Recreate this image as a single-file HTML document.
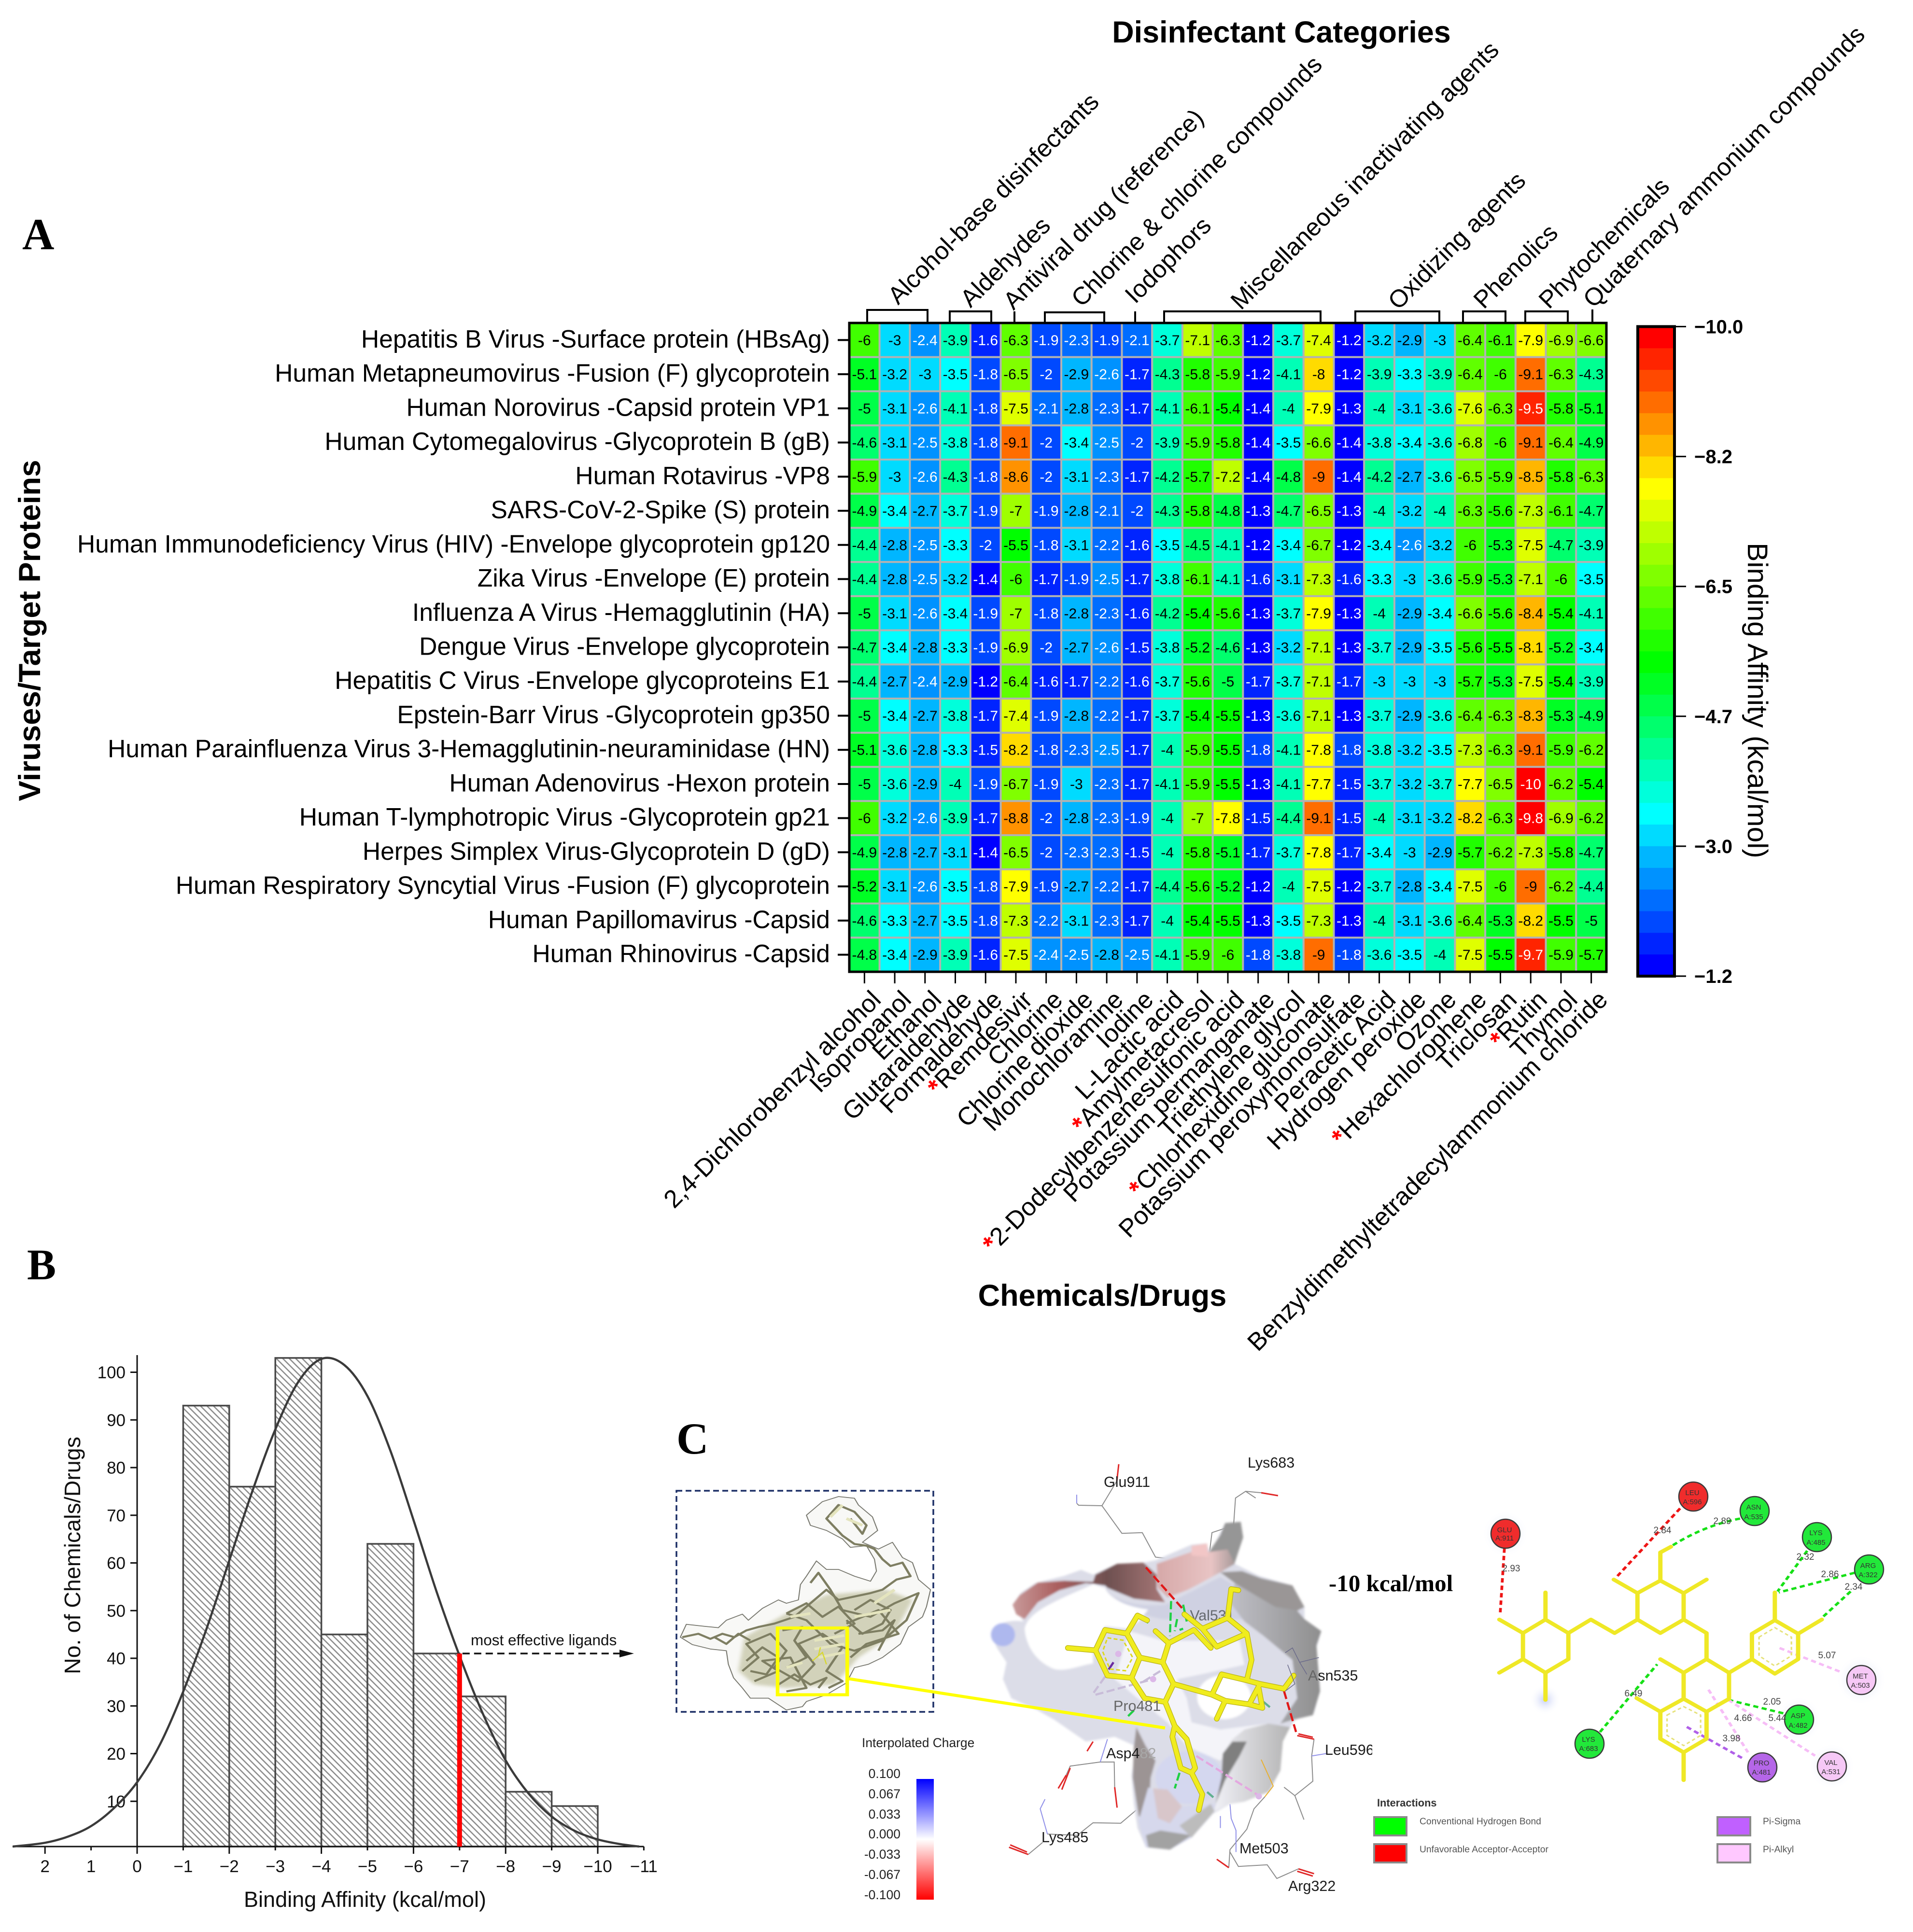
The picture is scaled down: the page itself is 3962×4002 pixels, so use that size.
<!DOCTYPE html>
<html lang="en">
<head>
<meta charset="utf-8">
<title>Binding affinity heatmap, histogram and docking panels</title>
<style>
html,body{margin:0;padding:0;background:#fff;}
svg{display:block;font-family:"Liberation Sans",sans-serif;}
</style>
</head>
<body>
<svg id="fig" xmlns="http://www.w3.org/2000/svg" width="3962" height="4002" viewBox="0 0 3962 4002">
<defs>
<pattern id="hatch" patternUnits="userSpaceOnUse" width="9.5" height="9.5" patternTransform="rotate(-45)">
<rect width="9.5" height="9.5" fill="#fff"/>
<rect x="0" y="0" width="2.6" height="9.5" fill="#8c8c8c"/>
</pattern>
<linearGradient id="chargeGrad" x1="0" y1="0" x2="0" y2="1">
<stop offset="0" stop-color="#0000ff"/><stop offset="0.5" stop-color="#ffffff"/><stop offset="1" stop-color="#ff0000"/>
</linearGradient>
<linearGradient id="rimGrad" x1="0" y1="0" x2="1" y2="0">
<stop offset="0" stop-color="#c89a9a"/><stop offset="0.3" stop-color="#aa5e5e"/><stop offset="0.62" stop-color="#6e5050"/><stop offset="1" stop-color="#a87878"/>
</linearGradient>
<linearGradient id="bandGrad" x1="0" y1="0" x2="1" y2="0">
<stop offset="0" stop-color="#d6a8a8"/><stop offset="0.7" stop-color="#e8c4c4"/><stop offset="1" stop-color="#a89a9a"/>
</linearGradient>
<linearGradient id="rightGrad" x1="0" y1="0" x2="1" y2="0">
<stop offset="0" stop-color="#bfbfc6"/><stop offset="1" stop-color="#8e8e8e"/>
</linearGradient>
<linearGradient id="lowerGrad" x1="0" y1="0" x2="1" y2="0">
<stop offset="0" stop-color="#f0f0f6"/><stop offset="1" stop-color="#b4b4b4"/>
</linearGradient>
<radialGradient id="halo"><stop offset="0" stop-color="#c6cff5"/><stop offset="1" stop-color="#ffffff" stop-opacity="0"/></radialGradient>
<clipPath id="leuClip"><rect x="2700" y="3590" width="142" height="60"/></clipPath>
<filter id="soft" x="-10%" y="-10%" width="120%" height="120%"><feGaussianBlur stdDeviation="5"/></filter>
</defs>

<rect x="0" y="0" width="3962" height="4002" fill="#ffffff"/>

<!-- Panel letters -->
<text x="46" y="516" font-family="Liberation Serif, serif" font-weight="bold" font-size="92">A</text>
<text x="56" y="2650" font-family="Liberation Serif, serif" font-weight="bold" font-size="90">B</text>
<text x="1401" y="3011" font-family="Liberation Serif, serif" font-weight="bold" font-size="92">C</text>

<!-- Heatmap titles -->
<text x="2654" y="88" text-anchor="middle" font-weight="bold" font-size="62.8">Disinfectant Categories</text>
<text x="2283" y="2705" text-anchor="middle" font-weight="bold" font-size="63">Chemicals/Drugs</text>
<text transform="translate(83,1306) rotate(-90)" text-anchor="middle" font-weight="bold" font-size="63.5">Viruses/Target Proteins</text>
<text transform="translate(3620,1451) rotate(90)" text-anchor="middle" font-size="58.6">Binding Affinity (kcal/mol)</text>

<g id="heatmap"></g>

<!-- Category brackets and labels -->
<g fill="none" stroke="#000" stroke-width="4">
<path d="M1796 669V642H1921V669"/>
<path d="M1967 669V645H2053V669"/>
<path d="M2101 669V645"/>
<path d="M2164 669V647H2287V669"/>
<path d="M2351 669V645"/>
<path d="M2411 669V645H2735V669"/>
<path d="M2807 669V645H2981V669"/>
<path d="M3030 669V645H3118V669"/>
<path d="M3159 669V645H3247V669"/>
<path d="M3298 669V641"/>
</g>
<g font-size="51" fill="#000">
<text transform="translate(1860,633) rotate(-45)">Alcohol-base disinfectants</text>
<text transform="translate(2010,639) rotate(-45)">Aldehydes</text>
<text transform="translate(2099,644) rotate(-45)">Antiviral drug (reference)</text>
<text transform="translate(2240,638) rotate(-45)">Chlorine &amp; chlorine compounds</text>
<text transform="translate(2351,631) rotate(-45)">Iodophors</text>
<text transform="translate(2570,644) rotate(-45)">Miscellaneous inactivating agents</text>
<text transform="translate(2896,644) rotate(-45)">Oxidizing agents</text>
<text transform="translate(3073,642) rotate(-45)">Phenolics</text>
<text transform="translate(3208,642) rotate(-45)">Phytochemicals</text>
<text transform="translate(3300,640) rotate(-45)">Quaternary ammonium compounds</text>
</g>

<g id="colorbar"></g>
<g id="hist"></g>

<!-- Panel C: protein overview -->
<rect x="1401" y="3088" width="532" height="458" fill="none" stroke="#1c2f66" stroke-width="3.5" stroke-dasharray="12 7"/>
<g transform="translate(1380,2900) scale(.829,.7018)">
<path d="M35 700 L50 662 L95 668 L130 672 L150 650 L190 632 L205 650 L240 615 L280 590 L300 600 L330 590 L335 545 L350 520 L375 475 L400 500 L430 500 L470 520 L510 535 L525 505 L520 470 L500 430 L460 435 L440 410 L400 385 L360 370 L350 340 L390 300 L430 285 L470 290 L480 310 L515 345 L528 385 L490 420 L530 440 L565 420 L590 465 L615 480 L630 530 L660 560 L650 610 L640 640 L605 670 L585 720 L540 760 L505 780 L470 790 L450 835 L400 870 L350 890 L340 905 L300 915 L255 880 L210 880 L190 850 L168 820 L155 780 L150 740 L110 735 L65 722 Z" fill="#f8f8f6" stroke="#77776e" stroke-width="2.5" stroke-linejoin="round"/>
<path d="M180 800 L195 700 L300 630 L400 575 L550 560 L615 590 L570 690 L480 760 L420 840 L300 850 L220 840 Z" fill="#d2d2ba" filter="url(#soft)"/>
<g fill="none" stroke="#7e7e62" stroke-width="6" stroke-linejoin="round">
<path d="M40 700 L80 690 L110 705 L140 690 L170 700 L200 680 L230 670 L270 660 L320 640 L360 600 L400 560 L430 590 L470 580 L510 570 L540 560 L575 530 L610 520 L590 480 L560 490 L540 470 L520 440 L500 430 L470 425 L440 400 L400 350 L430 310 L470 330 L500 370 L490 395 L460 350"/>
<path d="M190 800 L230 760 L200 720 L260 690 L300 740 L270 790 L330 830 L370 780 L330 720 L390 690 L440 730 L400 800 L440 830 L405 850"/>
<path d="M360 540 L380 510 L410 560 L440 620 L510 640 L570 600 L630 570 L600 650 L540 710 L470 740 L410 720 L350 650 L300 630"/>
<path d="M220 830 L280 800 L240 770 L310 760 L350 850 L300 860 M450 660 L530 620 L580 690 L500 720 L460 760"/>
<path d="M200 770 L240 730 L280 760 L250 810 L210 800 M290 680 L340 670 L320 710 L350 760 L300 790 M470 620 L510 590 L560 620 L540 660 L490 690 L450 650 M480 690 L540 680 L570 650 L530 740"/>
<path d="M300 630 L350 600 L390 640 L430 610 L470 660 L420 690 M120 700 L150 720 L180 690 L210 710 M280 840 L320 810 L360 840 L400 820 L380 850"/>
</g>
<g fill="none" stroke="#e4e4be" stroke-width="8">
<path d="M370 710 L445 695 M370 735 L445 720 M380 760 L445 745 M520 600 L570 560 M470 640 L560 620 M410 345 L440 310 M450 350 L490 370 M310 640 L360 630 M300 790 L340 775"/>
</g>
<path d="M365 770 L390 745 L400 780 M380 755 L385 730" fill="none" stroke="#d8d830" stroke-width="3"/>
</g>

<!-- Panel C: binding pocket (coordinates in a 1568-unit frame over the pocket region) -->
<g transform="translate(2030,3120) scale(.4975)">
<g fill="none" stroke="#8c8c8c" stroke-width="4">
<path d="M402 -12 L410 -4 L507 -2 L590 113 L675 110 L730 212 L785 218 M507 -2 L569 -105"/>
<path d="M1147 -34 L1105 -62 L1063 -34 L1055 80 L965 110 L955 190 L860 250 L855 360 M1105 -62 L1170 -56"/>
<path d="M500 1065 L375 1082 L358 1120 M500 1065 L558 1065 L560 1170"/>
<path d="M650 1265 L585 1320 L470 1318 L405 1370 L280 1365 M260 1400 L200 1450"/>
<path d="M1185 1210 L1140 1260 L1110 1345 L1040 1430 L1035 1505 M1040 1440 L1075 1500 L1195 1493 L1235 1550 L1325 1510"/>
<path d="M1390 970 L1380 1040 L1385 1145 L1310 1205 L1265 1170 M1310 1205 L1348 1305"/>
</g>
<path d="M569 -105 L577 -175 M1170 -56 L1240 -44 M780 218 L825 228 M358 1120 L325 1175 M375 1090 L340 1180 M560 1170 L570 1255 M200 1450 L120 1420 M195 1440 L125 1410 M1035 1505 L985 1470 M1325 1510 L1390 1530 M1320 1520 L1385 1540 M1390 970 L1320 955 M1385 962 L1325 948 M470 980 L445 1020" fill="none" stroke="#e02828" stroke-width="6"/>
<path d="M402 -12 L402 -48 M530 970 L500 1065 M280 1365 L250 1260 L270 1220 M1040 1240 L1045 1300 L1065 1350 L1065 1440 M1000 1290 L1000 1340 M1380 1040 L1440 1030" fill="none" stroke="#9090e8" stroke-width="4"/>

<g filter="url(#soft)">
<path d="M45 530 C60 490 120 470 180 480 L135 410 L170 360 L230 320 L350 290 L420 265 L470 285 L570 240 L680 235 L730 225 L880 160 L940 155 L960 190 L1020 70 L1085 65 L1090 130 L1060 240 L1160 290 L1300 330 L1350 420 L1350 470 L1420 520 L1400 590 L1415 760 L1390 860 L1310 890 L1260 970 L1250 1090 L1210 1180 L1100 1230 L1040 1240 L970 1280 L880 1380 L790 1430 L690 1420 L655 1340 L640 1240 L630 1120 L650 1000 L560 960 L440 980 L310 890 L240 850 L130 800 L95 720 L110 650 L70 590 Z" fill="#dcdde8"/>
<ellipse cx="95" cy="535" rx="50" ry="48" fill="#aeb8ee"/>
<path d="M520 340 C560 400 660 420 770 410 L870 360 L1000 295 L1060 330 L1120 470 L1000 470 L760 470 L620 440 Z" fill="#cfd1e2"/>
<path d="M620 520 L760 560 L1080 560 L1100 660 L920 700 L820 720 L860 800 L880 900 L1000 930 L1200 905 L1050 970 L1000 1060 L860 1000 L780 900 L680 820 L560 720 Z" fill="#f4f4f9"/>
<ellipse cx="870" cy="1130" rx="140" ry="110" fill="#d4d7ef"/>
<path d="M1020 70 L1085 65 L1095 130 L1060 235 L1000 275 L950 195 L1000 120 Z" fill="#969696"/>
<path d="M1000 275 L1090 270 L1170 300 L1300 330 L1350 420 L1320 435 L1230 420 L1140 370 L1060 320 Z" fill="#9a9696"/>
<path d="M1060 320 L1230 420 L1320 435 L1350 470 L1420 520 L1400 580 L1415 770 L1385 870 L1300 890 L1250 905 L1320 800 L1300 640 L1180 540 L1100 480 L1040 400 Z" fill="url(#rightGrad)"/>
<path d="M135 410 L165 370 L240 318 L350 310 L470 315 L480 285 L570 240 L680 235 L735 285 L735 345 L770 400 L640 385 L530 340 L520 330 L440 320 L330 350 L240 400 L185 470 L150 450 Z" fill="url(#rimGrad)"/>
<path d="M735 240 L880 190 L960 190 L1030 180 L1060 240 L1000 275 L900 330 L860 350 L780 380 L740 340 Z" fill="url(#bandGrad)"/>
<path d="M880 165 L945 155 L950 210 L880 205 Z" fill="#f2c6c6"/>
<path d="M1010 1030 L1050 970 L1100 930 L1200 905 L1290 920 L1260 980 L1250 1100 L1200 1190 L1100 1230 L1040 1240 L975 1270 L1005 1140 Z" fill="url(#lowerGrad)"/>
<path d="M1010 1030 L1050 980 L1110 980 L1080 1040 L1020 1140 L980 1240 L1005 1130 Z" fill="#7f7f7f"/>
<path d="M650 920 L690 1000 L730 1060 L710 1130 L700 1310 L660 1290 L635 1130 L640 1000 Z" fill="#9c9494"/>
<path d="M660 1310 L700 1170 L840 1250 L980 1240 L960 1290 L880 1380 L790 1430 L690 1420 Z" fill="#d6d8ec"/>
<path d="M690 1370 L750 1350 L880 1370 L790 1430 L700 1420 Z" fill="#a2a2a2"/>
<path d="M830 1330 L960 1240 L975 1270 L880 1380 Z" fill="#bcbcbc"/>
<path d="M720 1175 L780 1180 L840 1250 L790 1320 L740 1300 Z" fill="#d8c6ca"/>
</g>
<g fill="#ffffff" filter="url(#soft)">
<path d="M185 510 C200 440 300 400 470 325 L520 340 C540 390 620 420 700 430 L660 480 L610 510 L520 500 L470 600 L470 655 C420 660 340 700 290 670 C230 640 190 580 185 510 Z"/>
<ellipse cx="1015" cy="795" rx="112" ry="92"/>
</g>
<text x="873" y="475" font-size="61" fill="#666a70">Val531</text>

<g fill="none" stroke-width="9" stroke-dasharray="34 14">
<path stroke="#e01818" d="M690 255 L850 435 M1265 770 L1315 940"/>
<path stroke="#1fd044" d="M795 395 L790 540 M820 470 L810 520 M845 410 L860 480 M830 1110 L810 1175 M640 850 L615 875 M700 485 L690 480 M830 515 L845 510"/>
<path stroke="#60b090" d="M1180 815 L1210 840 M945 1190 L980 1220"/>
<path stroke="#e4a8e0" d="M900 1040 L1160 1205"/>
<path stroke="#c8bcd8" d="M480 785 L720 720 M520 710 L470 780 M680 730 L760 680"/>
</g>
<path d="M555 650 L535 680" stroke="#6a2ca0" stroke-width="9"/>
<circle cx="575" cy="615" r="13" fill="#dcb8e8"/>
<circle cx="720" cy="720" r="13" fill="#dcb8e8"/>
<circle cx="1160" cy="1208" r="13" fill="#dcb8e8"/>

<path d="M520 515 L610 530 L665 630 L630 715 L530 705 L480 600 Z M480 600 L365 590 M610 530 L655 455 L695 475 M665 630 L760 650 L805 740 L770 815 L685 800 L630 715 M760 650 L785 570 L730 520 M785 570 L890 515 L960 590 M850 450 L925 510 L1030 465 L1110 530 L985 585 L925 510 M1030 465 L1045 345 L1075 350 M1110 530 L1130 640 L1110 725 L1005 700 L965 785 L1020 810 L1120 825 L1165 740 L1110 725 M805 740 L965 785 M1020 810 L985 885 M1120 825 L1175 840 L1160 760 M1165 740 L1265 760 L1305 705 M770 815 L810 915 M810 915 L860 970 L895 1090 L880 1110 L835 1090 L800 960 Z M880 1110 L925 1200 L910 1265" fill="none" stroke="#b8b014" stroke-width="23" stroke-linecap="round" stroke-linejoin="round"/>
<path d="M520 515 L610 530 L665 630 L630 715 L530 705 L480 600 Z M480 600 L365 590 M610 530 L655 455 L695 475 M665 630 L760 650 L805 740 L770 815 L685 800 L630 715 M760 650 L785 570 L730 520 M785 570 L890 515 L960 590 M850 450 L925 510 L1030 465 L1110 530 L985 585 L925 510 M1030 465 L1045 345 L1075 350 M1110 530 L1130 640 L1110 725 L1005 700 L965 785 L1020 810 L1120 825 L1165 740 L1110 725 M805 740 L965 785 M1020 810 L985 885 M1120 825 L1175 840 L1160 760 M1165 740 L1265 760 L1305 705 M770 815 L810 915 M810 915 L860 970 L895 1090 L880 1110 L835 1090 L800 960 Z M880 1110 L925 1200 L910 1265" fill="none" stroke="#f0ec1e" stroke-width="18" stroke-linecap="round" stroke-linejoin="round"/>
<path d="M530 548 L595 558 L635 630 L605 685 L540 678 L510 605 Z" fill="none" stroke="#dcd820" stroke-width="6" stroke-dasharray="16 10"/>
<path d="M1170 1055 L1220 1165 L1185 1210" fill="none" stroke="#e8b030" stroke-width="4"/>
<path d="M1270 610 L1300 590 L1330 650 L1410 630 M1330 650 L1360 700 M1280 660 L1310 740 L1270 770" fill="none" stroke="#6a6a8a" stroke-width="3"/>
</g>

<!-- Panel C: highlight box and connector -->
<g transform="translate(1380,2900) scale(.829,.7018)">
<rect x="278" y="673" width="174" height="197" fill="none" stroke="#ffff00" stroke-width="9"/>
<line x1="452" y1="822" x2="1246" y2="968" stroke="#ffff00" stroke-width="9"/>
</g>

<g font-size="30.5" fill="#1c1c1c">
<text x="2286" y="3080">Glu911</text>
<text x="2584" y="3040">Lys683</text>
<text x="2306" y="3544" fill="#666">Pro481</text>
<text x="2291" y="3642">Asp4<tspan fill="#a8a8a8">82</tspan></text>
<text x="2157" y="3816">Lys485</text>
<text x="2567" y="3839">Met503</text>
<text x="2668" y="3917">Arg322</text>
<text x="2709" y="3481"><tspan fill="#666">A</tspan>sn535</text>
<text x="2744" y="3635" clip-path="url(#leuClip)">Leu596</text>
</g>
<text x="2752" y="3296" font-family="Liberation Serif, serif" font-weight="bold" font-size="49">-10 kcal/mol</text>

<!-- Charge legend -->
<g fill="#222">
<text x="1785" y="3619" font-size="26.4">Interpolated Charge</text>
<g font-size="26.5" text-anchor="end">
<text x="1865" y="3683">0.100</text>
<text x="1865" y="3725">0.067</text>
<text x="1865" y="3767">0.033</text>
<text x="1865" y="3808">0.000</text>
<text x="1865" y="3850">-0.033</text>
<text x="1865" y="3892">-0.067</text>
<text x="1865" y="3934">-0.100</text>
</g>
<rect x="1898" y="3685" width="36" height="250" fill="url(#chargeGrad)"/>
</g>

<!-- Panel C: 2D interactions -->
<g>
<circle cx="3118" cy="3177" r="48" fill="url(#halo)"/>
<circle cx="3855" cy="3480" r="52" fill="url(#halo)"/>
<circle cx="3726" cy="3562" r="48" fill="url(#halo)"/>
<circle cx="3794" cy="3659" r="48" fill="url(#halo)"/>
<circle cx="3200" cy="3521" r="32" fill="url(#halo)"/>
<g transform="translate(2680,2900) scale(.8176,.7018)">
<g fill="none" stroke-width="7" stroke-dasharray="13 9">
<path stroke="#ee1515" d="M533 438 L522 635 M978 320 L815 525"/>
<path stroke="#16e016" d="M1130 350 Q1040 370 958 430 M1300 445 L1225 565 M1420 510 L1228 568 M1410 565 L1340 640 M775 980 L920 780 M1100 885 L1240 925"/>
<path stroke="#f6bdf6" d="M1230 732 L1390 805 M1050 855 L1150 1040 M1100 885 L1320 1050"/>
<path stroke="#b060e8" d="M995 965 L1140 1060"/>
</g>
<g fill="none" stroke="#efe826" stroke-width="11" stroke-linecap="round" stroke-linejoin="round">
<path d="M580 688 L637 648 L695 688 L695 765 L637 805 L580 765 Z M580 688 L520 648 M637 648 L637 568 M580 765 L520 805 M637 805 L637 885 M695 688 L752 648 L812 688 L870 648 M870 570 L928 533 L987 570 L987 648 L928 688 L870 648 Z M870 570 L810 530 M928 533 L928 450 L955 433 M987 570 L1045 530 M987 648 L1045 688 L1045 765 M1045 765 L1102 805 L1102 882 L1045 920 L987 882 L987 805 Z M987 805 L928 765 M1102 805 L1160 765 M1160 690 L1218 650 L1277 690 L1277 765 L1218 808 L1160 765 Z M1218 650 L1218 568 M1277 690 L1337 648 M928 920 L987 882 L1045 920 L1045 1000 L987 1040 L928 1000 Z M928 920 L868 880 M987 1040 L987 1122"/>
</g>
<path d="M1178 700 L1218 672 L1260 700 L1260 755 L1218 785 L1178 755 Z M945 930 L987 905 L1030 930 L1030 990 L987 1020 L945 990 Z" fill="none" stroke="#e6e27a" stroke-width="4" stroke-dasharray="9 7"/>
</g>
<g stroke="#3a3a3a" stroke-width="2.5">
<circle cx="3118" cy="3177" r="30" fill="#f02c2c"/>
<circle cx="3507" cy="3100" r="30" fill="#f02c2c"/>
<circle cx="3634" cy="3130" r="30" fill="#22e83a"/>
<circle cx="3763" cy="3184" r="30" fill="#22e83a"/>
<circle cx="3871" cy="3251" r="30" fill="#22e83a"/>
<circle cx="3855" cy="3480" r="30" fill="#f6c8f6"/>
<circle cx="3726" cy="3562" r="30" fill="#22e83a"/>
<circle cx="3794" cy="3659" r="30" fill="#f6c8f6"/>
<circle cx="3650" cy="3661" r="30" fill="#b566e8"/>
<circle cx="3292" cy="3612" r="30" fill="#22e83a"/>
</g>
<g font-size="15" text-anchor="middle" fill="#333">
<text x="3116" y="3174">GLU</text><text x="3116" y="3191">A:911</text>
<text x="3505" y="3097">LEU</text><text x="3505" y="3116">A:596</text>
<text x="3632" y="3127">ASN</text><text x="3632" y="3147">A:535</text>
<text x="3761" y="3180">LYS</text><text x="3761" y="3200">A:485</text>
<text x="3869" y="3248">ARG</text><text x="3869" y="3267">A:322</text>
<text x="3853" y="3477">MET</text><text x="3853" y="3496">A:503</text>
<text x="3724" y="3559">ASP</text><text x="3724" y="3579">A:482</text>
<text x="3792" y="3656">VAL</text><text x="3792" y="3675">A:531</text>
<text x="3648" y="3657">PRO</text><text x="3648" y="3676">A:481</text>
<text x="3290" y="3608">LYS</text><text x="3290" y="3627">A:683</text>
</g>
<g font-size="19" text-anchor="middle" fill="#444">
<text x="3130" y="3255">2.93</text>
<text x="3443" y="3176">2.84</text>
<text x="3567" y="3157">2.89</text>
<text x="3739" y="3231">2.32</text>
<text x="3790" y="3267">2.86</text>
<text x="3839" y="3293">2.34</text>
<text x="3784" y="3435">5.07</text>
<text x="3383" y="3514">6.49</text>
<text x="3670" y="3531">2.05</text>
<text x="3610" y="3565">4.66</text>
<text x="3681" y="3565">5.44</text>
<text x="3586" y="3607">3.98</text>
</g>
<text x="2852" y="3742" font-size="21.8" font-weight="bold" fill="#333">Interactions</text>
<g stroke="#8a8a8a" stroke-width="4">
<rect x="2846" y="3764" width="67" height="38" fill="#00ff00"/>
<rect x="2846" y="3820" width="67" height="38" fill="#ff0000"/>
<rect x="3557" y="3764" width="68" height="38" fill="#c060ff"/>
<rect x="3557" y="3820" width="68" height="38" fill="#ffc8ff"/>
</g>
<g font-size="19.3" fill="#555">
<text x="2940" y="3779">Conventional Hydrogen Bond</text>
<text x="2940" y="3837">Unfavorable Acceptor-Acceptor</text>
<text x="3651" y="3779">Pi-Sigma</text>
<text x="3651" y="3837">Pi-Alkyl</text>
</g>
</g>
</svg>

<script>
// ---------- Heatmap data ----------
const proteins = [
"Hepatitis B Virus -Surface protein (HBsAg)",
"Human Metapneumovirus -Fusion (F) glycoprotein",
"Human Norovirus -Capsid protein VP1",
"Human Cytomegalovirus -Glycoprotein B (gB)",
"Human Rotavirus -VP8",
"SARS-CoV-2-Spike (S) protein",
"Human Immunodeficiency Virus (HIV) -Envelope glycoprotein gp120",
"Zika Virus -Envelope (E) protein",
"Influenza A Virus -Hemagglutinin (HA)",
"Dengue Virus -Envelope glycoprotein",
"Hepatitis C Virus -Envelope glycoproteins E1",
"Epstein-Barr Virus -Glycoprotein gp350",
"Human Parainfluenza Virus 3-Hemagglutinin-neuraminidase (HN)",
"Human Adenovirus -Hexon protein",
"Human T-lymphotropic Virus -Glycoprotein gp21",
"Herpes Simplex Virus-Glycoprotein D (gD)",
"Human Respiratory Syncytial Virus -Fusion (F) glycoprotein",
"Human Papillomavirus -Capsid",
"Human Rhinovirus -Capsid"];
const drugs = [
"2,4-Dichlorobenzyl alcohol","Isopropanol","Ethanol","Glutaraldehyde","Formaldehyde","*Remdesivir",
"Chlorine","Chlorine dioxide","Monochloramine","Iodine","L-Lactic acid","*Amylmetacresol",
"*2-Dodecylbenzenesulfonic acid","Potassium permanganate","Triethylene glycol","*Chlorhexidine gluconate",
"Potassium peroxymonosulfate","Peracetic Acid","Hydrogen peroxide","Ozone","*Hexachlorophene","Triclosan",
"*Rutin","Thymol","Benzyldimethyltetradecylammonium chloride"];
const affinity = [
[-6,-3,-2.4,-3.9,-1.6,-6.3,-1.9,-2.3,-1.9,-2.1,-3.7,-7.1,-6.3,-1.2,-3.7,-7.4,-1.2,-3.2,-2.9,-3,-6.4,-6.1,-7.9,-6.9,-6.6],
[-5.1,-3.2,-3,-3.5,-1.8,-6.5,-2,-2.9,-2.6,-1.7,-4.3,-5.8,-5.9,-1.2,-4.1,-8,-1.2,-3.9,-3.3,-3.9,-6.4,-6,-9.1,-6.3,-4.3],
[-5,-3.1,-2.6,-4.1,-1.8,-7.5,-2.1,-2.8,-2.3,-1.7,-4.1,-6.1,-5.4,-1.4,-4,-7.9,-1.3,-4,-3.1,-3.6,-7.6,-6.3,-9.5,-5.8,-5.1],
[-4.6,-3.1,-2.5,-3.8,-1.8,-9.1,-2,-3.4,-2.5,-2,-3.9,-5.9,-5.8,-1.4,-3.5,-6.6,-1.4,-3.8,-3.4,-3.6,-6.8,-6,-9.1,-6.4,-4.9],
[-5.9,-3,-2.6,-4.3,-1.8,-8.6,-2,-3.1,-2.3,-1.7,-4.2,-5.7,-7.2,-1.4,-4.8,-9,-1.4,-4.2,-2.7,-3.6,-6.5,-5.9,-8.5,-5.8,-6.3],
[-4.9,-3.4,-2.7,-3.7,-1.9,-7,-1.9,-2.8,-2.1,-2,-4.3,-5.8,-4.8,-1.3,-4.7,-6.5,-1.3,-4,-3.2,-4,-6.3,-5.6,-7.3,-6.1,-4.7],
[-4.4,-2.8,-2.5,-3.3,-2,-5.5,-1.8,-3.1,-2.2,-1.6,-3.5,-4.5,-4.1,-1.2,-3.4,-6.7,-1.2,-3.4,-2.6,-3.2,-6,-5.3,-7.5,-4.7,-3.9],
[-4.4,-2.8,-2.5,-3.2,-1.4,-6,-1.7,-1.9,-2.5,-1.7,-3.8,-6.1,-4.1,-1.6,-3.1,-7.3,-1.6,-3.3,-3,-3.6,-5.9,-5.3,-7.1,-6,-3.5],
[-5,-3.1,-2.6,-3.4,-1.9,-7,-1.8,-2.8,-2.3,-1.6,-4.2,-5.4,-5.6,-1.3,-3.7,-7.9,-1.3,-4,-2.9,-3.4,-6.6,-5.6,-8.4,-5.4,-4.1],
[-4.7,-3.4,-2.8,-3.3,-1.9,-6.9,-2,-2.7,-2.6,-1.5,-3.8,-5.2,-4.6,-1.3,-3.2,-7.1,-1.3,-3.7,-2.9,-3.5,-5.6,-5.5,-8.1,-5.2,-3.4],
[-4.4,-2.7,-2.4,-2.9,-1.2,-6.4,-1.6,-1.7,-2.2,-1.6,-3.7,-5.6,-5,-1.7,-3.7,-7.1,-1.7,-3,-3,-3,-5.7,-5.3,-7.5,-5.4,-3.9],
[-5,-3.4,-2.7,-3.8,-1.7,-7.4,-1.9,-2.8,-2.2,-1.7,-3.7,-5.4,-5.5,-1.3,-3.6,-7.1,-1.3,-3.7,-2.9,-3.6,-6.4,-6.3,-8.3,-5.3,-4.9],
[-5.1,-3.6,-2.8,-3.3,-1.5,-8.2,-1.8,-2.3,-2.5,-1.7,-4,-5.9,-5.5,-1.8,-4.1,-7.8,-1.8,-3.8,-3.2,-3.5,-7.3,-6.3,-9.1,-5.9,-6.2],
[-5,-3.6,-2.9,-4,-1.9,-6.7,-1.9,-3,-2.3,-1.7,-4.1,-5.9,-5.5,-1.3,-4.1,-7.7,-1.5,-3.7,-3.2,-3.7,-7.7,-6.5,-10,-6.2,-5.4],
[-6,-3.2,-2.6,-3.9,-1.7,-8.8,-2,-2.8,-2.3,-1.9,-4,-7,-7.8,-1.5,-4.4,-9.1,-1.5,-4,-3.1,-3.2,-8.2,-6.3,-9.8,-6.9,-6.2],
[-4.9,-2.8,-2.7,-3.1,-1.4,-6.5,-2,-2.3,-2.3,-1.5,-4,-5.8,-5.1,-1.7,-3.7,-7.8,-1.7,-3.4,-3,-2.9,-5.7,-6.2,-7.3,-5.8,-4.7],
[-5.2,-3.1,-2.6,-3.5,-1.8,-7.9,-1.9,-2.7,-2.2,-1.7,-4.4,-5.6,-5.2,-1.2,-4,-7.5,-1.2,-3.7,-2.8,-3.4,-7.5,-6,-9,-6.2,-4.4],
[-4.6,-3.3,-2.7,-3.5,-1.8,-7.3,-2.2,-3.1,-2.3,-1.7,-4,-5.4,-5.5,-1.3,-3.5,-7.3,-1.3,-4,-3.1,-3.6,-6.4,-5.3,-8.2,-5.5,-5],
[-4.8,-3.4,-2.9,-3.9,-1.6,-7.5,-2.4,-2.5,-2.8,-2.5,-4.1,-5.9,-6,-1.8,-3.8,-9,-1.8,-3.6,-3.5,-4,-7.5,-5.5,-9.7,-5.9,-5.7]];
const colorbarTicks = ["\u221210.0","\u22128.2","\u22126.5","\u22124.7","\u22123.0","\u22121.2"];

// ---------- Histogram data ----------
const binLower = [-1,-2,-3,-4,-5,-6,-7,-8,-9];
const binCounts = [93,76,103,45,64,41,32,12,9];
const xTickValues = [2,1,0,-1,-2,-3,-4,-5,-6,-7,-8,-9,-10,-11];
const yTickValues = [10,20,30,40,50,60,70,80,90,100];
const curveAffinity = [2.7,2,1.5,1,0.5,0,-0.5,-1,-1.5,-2,-2.5,-3,-3.5,-4,-4.5,-5,-5.5,-6,-6.5,-7,-7.5,-8,-8.5,-9,-9.5,-10,-10.5,-10.9];
const curveCount = [0.5,1.3,2.6,4.8,8.6,14,22,33,46,60.5,75,88,98,102.8,101.5,95,83.5,69,54,40.5,28.5,18.6,11.6,6.8,3.8,2,1,0.5];
const thresholdAffinity = -7;
const thresholdCount = 41;

const NS = 'http://www.w3.org/2000/svg';
function mk(tag, parent, props) {
  const n = document.createElementNS(NS, tag);
  for (const k in props) n.setAttribute(k, props[k]);
  parent.appendChild(n);
  return n;
}

// ---------- Heatmap scales ----------
const gridX0 = 1759, gridX1 = 3327, gridY0 = 669, gridY1 = 2013;
const colW = (gridX1 - gridX0) / drugs.length;
const rowH = (gridY1 - gridY0) / proteins.length;
function colX(c) { return gridX0 + c * colW; }
function rowY(r) { return gridY0 + r * rowH; }

const LEVELS = 30, VMIN = -10, VMAX = -1.2;
function bandColor(idx) {
  // idx 0 = top band (red), 29 = bottom band (blue)
  let r, g, b;
  if (idx <= 7) { r = 255; g = Math.round(255 * idx / 7); b = 0; }
  else if (idx <= 15) { r = Math.round(255 * (15 - idx) / 8); g = 255; b = 0; }
  else if (idx <= 22) { r = 0; g = 255; b = Math.round(255 * (idx - 15) / 7); }
  else { r = 0; g = Math.round(255 * (29 - idx) / 7); b = 255; }
  return 'rgb(' + r + ',' + g + ',' + b + ')';
}
function valueColor(v) {
  let i = Math.floor((VMAX - v) / ((VMAX - VMIN) / LEVELS) + 1e-6);
  i = Math.max(0, Math.min(LEVELS - 1, i));
  return bandColor(LEVELS - 1 - i);
}

const hm = document.getElementById('heatmap');
affinity.forEach(function (row, r) {
  row.forEach(function (v, c) {
    const cell = mk('rect', hm, { x: colX(c), y: rowY(r), width: colW, height: rowH, fill: valueColor(v), stroke: '#b2b2b2', 'stroke-width': 4 });
    
    
  });
});
affinity.forEach(function (row, r) {
  row.forEach(function (v, c) {
    const t = mk('text', hm, { x: colX(c) + colW / 2, y: rowY(r) + rowH / 2 + 10.5, 'text-anchor': 'middle', 'font-size': 30, fill: (v >= -2.6 || v <= -9.5) ? '#ffffff' : '#000000' });
    t.textContent = String(v);
    
    
  });
});
const frame = mk('rect', hm, { x: gridX0, y: gridY0, width: gridX1 - gridX0, height: gridY1 - gridY0, fill: 'none', stroke: '#000', 'stroke-width': 5 });



proteins.forEach(function (name, r) {
  const y = rowY(r) + rowH / 2;
  const tick = mk('line', hm, { x1: 1735, x2: gridX0, y1: y, y2: y, stroke: '#000', 'stroke-width': 4 });
  
  
  const t = mk('text', hm, { x: 1719, y: y + 15.5, 'text-anchor': 'end', 'font-size': 51.6, fill: '#000' });
  t.textContent = name;
  
  
});
drugs.forEach(function (name, c) {
  const x = colX(c) + colW / 2;
  const tick = mk('line', hm, { x1: x, x2: x, y1: gridY1, y2: 2037, stroke: '#000', 'stroke-width': 3 });
  
  
  const t = mk('text', hm, { transform: 'translate(' + (x + 37) + ',2074) rotate(-45)', 'text-anchor': 'end', 'font-size': 52, fill: '#000' });
  
  
  if (name.charAt(0) === '*') {
    const s = mk('tspan', t, { fill: '#ff0000', 'font-weight': 'bold' });
    s.textContent = '*';
    const rest = mk('tspan', t, {});
    rest.textContent = name.slice(1);
  } else {
    t.textContent = name;
  }
});

// ---------- Colorbar ----------
const cb = document.getElementById('colorbar');
const cbX0 = 3392, cbX1 = 3468, cbY0 = 676.5, cbY1 = 2022;
for (let i = 0; i < LEVELS; i++) {
  const bandH = (cbY1 - cbY0) / LEVELS;
  const band = mk('rect', cb, { x: cbX0, y: cbY0 + i * bandH, width: cbX1 - cbX0, height: bandH + 0.6, fill: bandColor(i) });
  
  
}
const cbFrame = mk('rect', cb, { x: cbX0, y: cbY0, width: cbX1 - cbX0, height: cbY1 - cbY0, fill: 'none', stroke: '#000', 'stroke-width': 6 });


colorbarTicks.forEach(function (label, i) {
  const y = cbY0 + i * (cbY1 - cbY0) / (colorbarTicks.length - 1);
  const tick = mk('line', cb, { x1: cbX1, x2: 3492, y1: y, y2: y, stroke: '#000', 'stroke-width': 3 });
  
  
  const t = mk('text', cb, { x: 3509, y: y + 14, 'font-size': 40, 'font-weight': 'bold', fill: '#000' });
  t.textContent = label;
  
  
});

// ---------- Histogram ----------
const hist = document.getElementById('hist');
const baseY = 3825;
function histX(v) { return 284 - v * 95.4; }
function histY(c) { return 3830 - c * 9.875; }

binLower.forEach(function (lo, i) {
  const x0 = histX(lo), x1 = histX(lo - 1), top = histY(binCounts[i]);
  const bar = mk('rect', hist, { x: x0, y: top, width: x1 - x0, height: baseY - top, fill: 'url(#hatch)', stroke: '#4a4a4a', 'stroke-width': 3.5 });
  
  
});

const axisX = mk('line', hist, { x1: 26, x2: histX(-11), y1: baseY, y2: baseY, stroke: '#111', 'stroke-width': 3 });


const axisY = mk('line', hist, { x1: histX(0), x2: histX(0), y1: 2807, y2: baseY, stroke: '#111', 'stroke-width': 3 });



xTickValues.forEach(function (v) {
  const x = histX(v);
  const tick = mk('line', hist, { x1: x, x2: x, y1: baseY, y2: baseY + (v % 2 === 0 ? 15 : 8), stroke: '#111', 'stroke-width': 3 });
  
  
  const t = mk('text', hist, { x: x, y: 3878, 'text-anchor': 'middle', 'font-size': 35, fill: '#111' });
  t.textContent = v < 0 ? '\u2212' + Math.abs(v) : String(v);
  
  
});
yTickValues.forEach(function (v) {
  const y = histY(v);
  const tick = mk('line', hist, { x1: 270, x2: histX(0), y1: y, y2: y, stroke: '#111', 'stroke-width': 3 });
  
  
  const t = mk('text', hist, { x: 260, y: y + 12.5, 'text-anchor': 'end', 'font-size': 35, fill: '#111' });
  t.textContent = String(v);
  
  
});

// Smooth curve through the points
(function () {
  const pts = curveAffinity.map(function (a, i) { return [histX(a), Math.min(baseY, histY(curveCount[i]))]; });
  let d = 'M' + pts[0][0] + ' ' + pts[0][1];
  for (let i = 0; i < pts.length - 1; i++) {
    const p0 = pts[Math.max(0, i - 1)], p1 = pts[i], p2 = pts[i + 1], p3 = pts[Math.min(pts.length - 1, i + 2)];
    d += ' C' + (p1[0] + (p2[0] - p0[0]) / 6) + ' ' + (p1[1] + (p2[1] - p0[1]) / 6) + ' ' +
         (p2[0] - (p3[0] - p1[0]) / 6) + ' ' + (p2[1] - (p3[1] - p1[1]) / 6) + ' ' + p2[0] + ' ' + p2[1];
  }
  const curve = mk('path', hist, { d: d, fill: 'none', stroke: '#3a3a3a', 'stroke-width': 4.5 });
  
  
})();

const thrX = histX(thresholdAffinity), thrY = histY(thresholdCount);
const thr = mk('line', hist, { x1: thrX, x2: thrX, y1: thrY, y2: baseY, stroke: '#ff0000', 'stroke-width': 10 });


const arrow = mk('line', hist, { x1: thrX + 6, x2: 1285, y1: thrY, y2: thrY, stroke: '#111', 'stroke-width': 3.5, 'stroke-dasharray': '15 9' });


const head = mk('polygon', hist, { points: '1283,' + (thrY - 8) + ' 1313,' + thrY + ' 1283,' + (thrY + 8), fill: '#111' });


const note = mk('text', hist, { x: 975, y: 3408, 'font-size': 31.5, fill: '#111' });
note.textContent = 'most effective ligands';


const hx = mk('text', hist, { x: 756, y: 3950, 'text-anchor': 'middle', 'font-size': 45, fill: '#111' });
hx.textContent = 'Binding Affinity (kcal/mol)';


const hy = mk('text', hist, { transform: 'translate(166,3222) rotate(-90)', 'text-anchor': 'middle', 'font-size': 46.6, fill: '#111' });
hy.textContent = 'No. of Chemicals/Drugs';


</script>
</body>
</html>
